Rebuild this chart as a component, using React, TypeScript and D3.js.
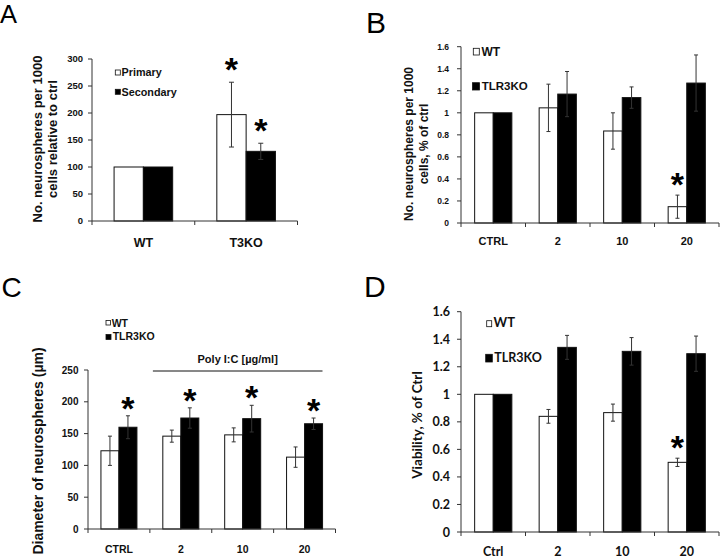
import React from 'react';
import * as d3 from 'd3';

// ---------- Panel A ----------
const catsA = ['WT', 'T3KO'];
const seriesNamesA = ['Primary', 'Secondary'];
const primaryA = [100, 197];
const primaryErrA = [0, 60];
const secondaryA = [100, 129];
const secondaryErrA = [0, 15];
const sigPrimaryA = [false, true];
const sigSecondaryA = [false, true];
const ticksA = [0, 50, 100, 150, 200, 250, 300];

// ---------- Panel B ----------
const catsB = ['CTRL', '2', '10', '20'];
const seriesNamesB = ['WT', 'TLR3KO'];
const wtB = [1.0, 1.045, 0.835, 0.148];
const wtErrB = [0, 0.215, 0.165, 0.105];
const koB = [1.0, 1.17, 1.138, 1.27];
const koErrB = [0, 0.205, 0.097, 0.255];
const sigWtB = [false, false, false, true];
const sigKoB = [false, false, false, false];
const ticksB = [0, 0.2, 0.4, 0.6, 0.8, 1.0, 1.2, 1.4, 1.6];

// ---------- Panel C ----------
const catsC = ['CTRL', '2', '10', '20'];
const seriesNamesC = ['WT', 'TLR3KO'];
const wtC = [123, 146, 148, 113];
const wtErrC = [23, 9.5, 11, 16];
const koC = [160, 174.5, 173.5, 165.5];
const koErrC = [18, 16, 21, 9];
const sigWtC = [false, false, false, false];
const sigKoC = [true, true, true, true];
const ticksC = [0, 50, 100, 150, 200, 250];
const bracketLabelC = 'Poly I:C [µg/ml]';

// ---------- Panel D ----------
const catsD = ['Ctrl', '2', '10', '20'];
const seriesNamesD = ['WT', 'TLR3KO'];
const wtD = [1.0, 0.84, 0.867, 0.506];
const wtErrD = [0, 0.05, 0.062, 0.03];
const koD = [1.0, 1.341, 1.312, 1.295];
const koErrD = [0, 0.087, 0.1, 0.128];
const sigWtD = [false, false, false, true];
const sigKoD = [false, false, false, false];
const ticksD = [0, 0.2, 0.4, 0.6, 0.8, 1.0, 1.2, 1.4, 1.6];

const ARIAL = "'Liberation Sans', Arial, sans-serif";
const CALIBRI = "Lato, 'Open Sans', sans-serif";
const fmtDec = (d: number) => String(+d.toFixed(1));
const fmtInt = (d: number) => String(d);

type Series = { values: number[]; errs: number[]; sig: boolean[]; fill: string };

type Cfg = {
  cats: string[];
  series: Series[];
  left: number; right: number; y0: number; yTop: number; yMax: number;
  ticks: number[]; fmt: (d: number) => string;
  barW: number; capW: number; starOff: number;
  font: string; tickFs: number; tickGap: number;
  catFs: number; catY: number;
  starFs: number;
};

function BarPanel({ cfg }: { cfg: Cfg }) {
  const x = d3.scaleBand<string>().domain(cfg.cats).range([cfg.left, cfg.right]).padding(0);
  const y = d3.scaleLinear().domain([0, cfg.yMax]).range([cfg.y0, cfg.yTop]);
  const bw = cfg.barW;
  const nS = cfg.series.length;
  const groupOff = (x.bandwidth() - nS * bw) / 2;
  const bounds = [...cfg.cats.map((c) => x(c) as number), cfg.right];
  const axisColor = '#333';
  return (
    <g>
      {/* bars */}
      {cfg.series.map((s, si) =>
        cfg.cats.map((c, ci) => {
          const bx = (x(c) as number) + groupOff + si * bw;
          const v = s.values[ci];
          return (
            <rect key={`b${si}-${ci}`} x={bx} y={y(v)} width={bw} height={cfg.y0 - y(v)}
              fill={s.fill} stroke="#111" strokeWidth={1} />
          );
        })
      )}
      {/* error bars */}
      {cfg.series.map((s, si) =>
        cfg.cats.map((c, ci) => {
          const cx = (x(c) as number) + groupOff + si * bw + bw / 2;
          const v = s.values[ci];
          const e = s.errs[ci];
          if (e <= 0) return null;
          const yt = y(v + e);
          const yb = y(v - e);
          return (
            <g key={`e${si}-${ci}`} stroke="#333" strokeWidth={1}>
              <line x1={cx} x2={cx} y1={yt} y2={yb} />
              <line x1={cx - cfg.capW / 2} x2={cx + cfg.capW / 2} y1={yt} y2={yt} />
              <line x1={cx - cfg.capW / 2} x2={cx + cfg.capW / 2} y1={yb} y2={yb} />
            </g>
          );
        })
      )}
      {/* asterisks */}
      {cfg.series.map((s, si) =>
        cfg.cats.map((c, ci) => {
          if (!s.sig[ci]) return null;
          const cx = (x(c) as number) + groupOff + si * bw + bw / 2;
          const yc = y(s.values[ci] + s.errs[ci]) - cfg.starOff;
          return (
            <text key={`s${si}-${ci}`} x={cx} y={yc + cfg.starFs * 0.56} textAnchor="middle"
              fontFamily={ARIAL} fontWeight="bold" fontSize={cfg.starFs} fill="#000">*</text>
          );
        })
      )}
      {/* y axis */}
      <line x1={cfg.left} x2={cfg.left} y1={y(cfg.yMax)} y2={cfg.y0} stroke={axisColor} strokeWidth={1} />
      {cfg.ticks.map((t) => (
        <g key={`t${t}`}>
          <line x1={cfg.left - 4} x2={cfg.left} y1={y(t)} y2={y(t)} stroke={axisColor} strokeWidth={1} />
          <text x={cfg.left - cfg.tickGap} y={y(t)} dy="0.36em" textAnchor="end" fontFamily={cfg.font}
            fontWeight="bold" fontSize={cfg.tickFs} fill="#111">{cfg.fmt(t)}</text>
        </g>
      ))}
      {/* x axis */}
      <line x1={cfg.left} x2={cfg.right} y1={cfg.y0} y2={cfg.y0} stroke={axisColor} strokeWidth={1} />
      {bounds.map((b, i) => (
        <line key={`xb${i}`} x1={b} x2={b} y1={cfg.y0} y2={cfg.y0 + 4} stroke={axisColor} strokeWidth={1} />
      ))}
      {cfg.cats.map((c) => (
        <text key={`c${c}`} x={(x(c) as number) + x.bandwidth() / 2} y={cfg.catY} textAnchor="middle"
          fontFamily={cfg.font} fontWeight="bold" fontSize={cfg.catFs} fill="#111">{c}</text>
      ))}
    </g>
  );
}

function LegendItem({ x, y, w, h, fill, label, tx, ty, fs, font }:
  { x: number; y: number; w: number; h: number; fill: string; label: string; tx: number; ty: number; fs: number; font: string }) {
  return (
    <g>
      <rect x={x} y={y} width={w} height={h} fill={fill} stroke="#111" strokeWidth={0.8} />
      <text x={tx} y={ty} fontFamily={font} fontWeight="bold" fontSize={fs} fill="#111">{label}</text>
    </g>
  );
}

function YTitle({ lines, cy, fs, font }: { lines: { text: string; base: number }[]; cy: number; fs: number; font: string }) {
  return (
    <g>
      {lines.map((l, i) => (
        <text key={i} transform={`translate(${l.base},${cy}) rotate(-90)`} textAnchor="middle"
          fontFamily={font} fontWeight="bold" fontSize={fs} fill="#111">{l.text}</text>
      ))}
    </g>
  );
}

export default function App() {
  const cfgA: Cfg = {
    cats: catsA,
    series: [
      { values: primaryA, errs: primaryErrA, sig: sigPrimaryA, fill: '#fff' },
      { values: secondaryA, errs: secondaryErrA, sig: sigSecondaryA, fill: '#000' },
    ],
    left: 92, right: 297.5, y0: 221, yTop: 59, yMax: 300, ticks: ticksA, fmt: fmtInt,
    barW: 29.3, capW: 5, starOff: 20, font: ARIAL, tickFs: 9.5, tickGap: 9,
    catFs: 12.5, catY: 246.5, starFs: 34,
  };
  const cfgB: Cfg = {
    cats: catsB,
    series: [
      { values: wtB, errs: wtErrB, sig: sigWtB, fill: '#fff' },
      { values: koB, errs: koErrB, sig: sigKoB, fill: '#000' },
    ],
    left: 461, right: 719, y0: 223, yTop: 46.7, yMax: 1.6, ticks: ticksB, fmt: fmtDec,
    barW: 18.6, capW: 4, starOff: 18, font: ARIAL, tickFs: 8.5, tickGap: 12,
    catFs: 11, catY: 245, starFs: 34,
  };
  const cfgC: Cfg = {
    cats: catsC,
    series: [
      { values: wtC, errs: wtErrC, sig: sigWtC, fill: '#fff' },
      { values: koC, errs: koErrC, sig: sigKoC, fill: '#000' },
    ],
    left: 88, right: 335.5, y0: 529, yTop: 370, yMax: 250, ticks: ticksC, fmt: fmtInt,
    barW: 18, capW: 4, starOff: 15, font: ARIAL, tickFs: 10, tickGap: 9.5,
    catFs: 10.5, catY: 552.5, starFs: 34,
  };
  const cfgD: Cfg = {
    cats: catsD,
    series: [
      { values: wtD, errs: wtErrD, sig: sigWtD, fill: '#fff' },
      { values: koD, errs: koErrD, sig: sigKoD, fill: '#000' },
    ],
    left: 461, right: 719, y0: 532, yTop: 311.7, yMax: 1.6, ticks: ticksD, fmt: fmtDec,
    barW: 18.6, capW: 4, starOff: 18, font: CALIBRI, tickFs: 12.5, tickGap: 11,
    catFs: 12.5, catY: 555.5, starFs: 34,
  };

  const xC = d3.scaleBand<string>().domain(catsC).range([cfgC.left, cfgC.right]);
  const bracketX1 = (xC(catsC[1]) as number) + 3;
  const bracketX2 = cfgC.right - 13;

  return (
    <svg width={720} height={560} style={{ position: 'absolute', left: 0, top: 0, background: '#fff' }}>
      <rect x={0} y={0} width={720} height={560} fill="#fff" />
      {/* panel letters */}
      <text x={0} y={23.3} fontFamily={ARIAL} fontSize={25.5} fill="#000">A</text>
      <text x={366} y={33.3} fontFamily={ARIAL} fontSize={30} fill="#000">B</text>
      <text x={1.5} y={296.7} fontFamily={ARIAL} fontSize={28} fill="#000">C</text>
      <text x={364} y={296.7} fontFamily={ARIAL} fontSize={30} fill="#000">D</text>

      {/* Panel A */}
      <BarPanel cfg={cfgA} />
      <LegendItem x={115.3} y={70} w={5} h={5} fill="#fff" label={seriesNamesA[0]} tx={121.5} ty={76} fs={10.8} font={ARIAL} />
      <LegendItem x={115.3} y={89.3} w={5} h={5} fill="#000" label={seriesNamesA[1]} tx={121.5} ty={95.7} fs={10.8} font={ARIAL} />
      <YTitle cy={139} fs={13} font={ARIAL} lines={[
        { text: 'No. neurospheres per 1000', base: 42 },
        { text: 'cells relative to ctrl', base: 56.5 },
      ]} />

      {/* Panel B */}
      <BarPanel cfg={cfgB} />
      <LegendItem x={473.3} y={48.3} w={6} h={6.7} fill="#fff" label={seriesNamesB[0]} tx={481.5} ty={55.7} fs={12} font={ARIAL} />
      <LegendItem x={472.5} y={82.7} w={7} h={7.3} fill="#000" label={seriesNamesB[1]} tx={481.7} ty={90} fs={11.5} font={ARIAL} />
      <YTitle cy={144} fs={12} font={ARIAL} lines={[
        { text: 'No. neurospheres per 1000', base: 413 },
        { text: 'cells, % of ctrl', base: 427.5 },
      ]} />

      {/* Panel C */}
      <BarPanel cfg={cfgC} />
      <LegendItem x={106} y={320.5} w={4.5} h={4.5} fill="#fff" label={seriesNamesC[0]} tx={111.7} ty={326.7} fs={10.5} font={ARIAL} />
      <LegendItem x={106} y={334.5} w={5} h={5} fill="#000" label={seriesNamesC[1]} tx={112.7} ty={340.3} fs={10.5} font={ARIAL} />
      <line x1={bracketX1} x2={bracketX2} y1={371} y2={371} stroke="#111" strokeWidth={1} />
      <text x={(bracketX1 + bracketX2) / 2} y={362.7} textAnchor="middle" fontFamily={ARIAL} fontWeight="bold"
        fontSize={11} fill="#111">{bracketLabelC}</text>
      <YTitle cy={451} fs={14} font={ARIAL} lines={[
        { text: 'Diameter of neurospheres (µm)', base: 42.5 },
      ]} />

      {/* Panel D */}
      <BarPanel cfg={cfgD} />
      <LegendItem x={486.7} y={320.7} w={5} h={6} fill="#fff" label={seriesNamesD[0]} tx={493.5} ty={327.3} fs={13} font={CALIBRI} />
      <LegendItem x={485.7} y={354.3} w={6.6} h={7.7} fill="#000" label={seriesNamesD[1]} tx={494.3} ty={362.3} fs={12.5} font={CALIBRI} />
      <YTitle cy={425} fs={13.5} font={CALIBRI} lines={[
        { text: 'Viability, % of Ctrl', base: 422 },
      ]} />
    </svg>
  );
}
